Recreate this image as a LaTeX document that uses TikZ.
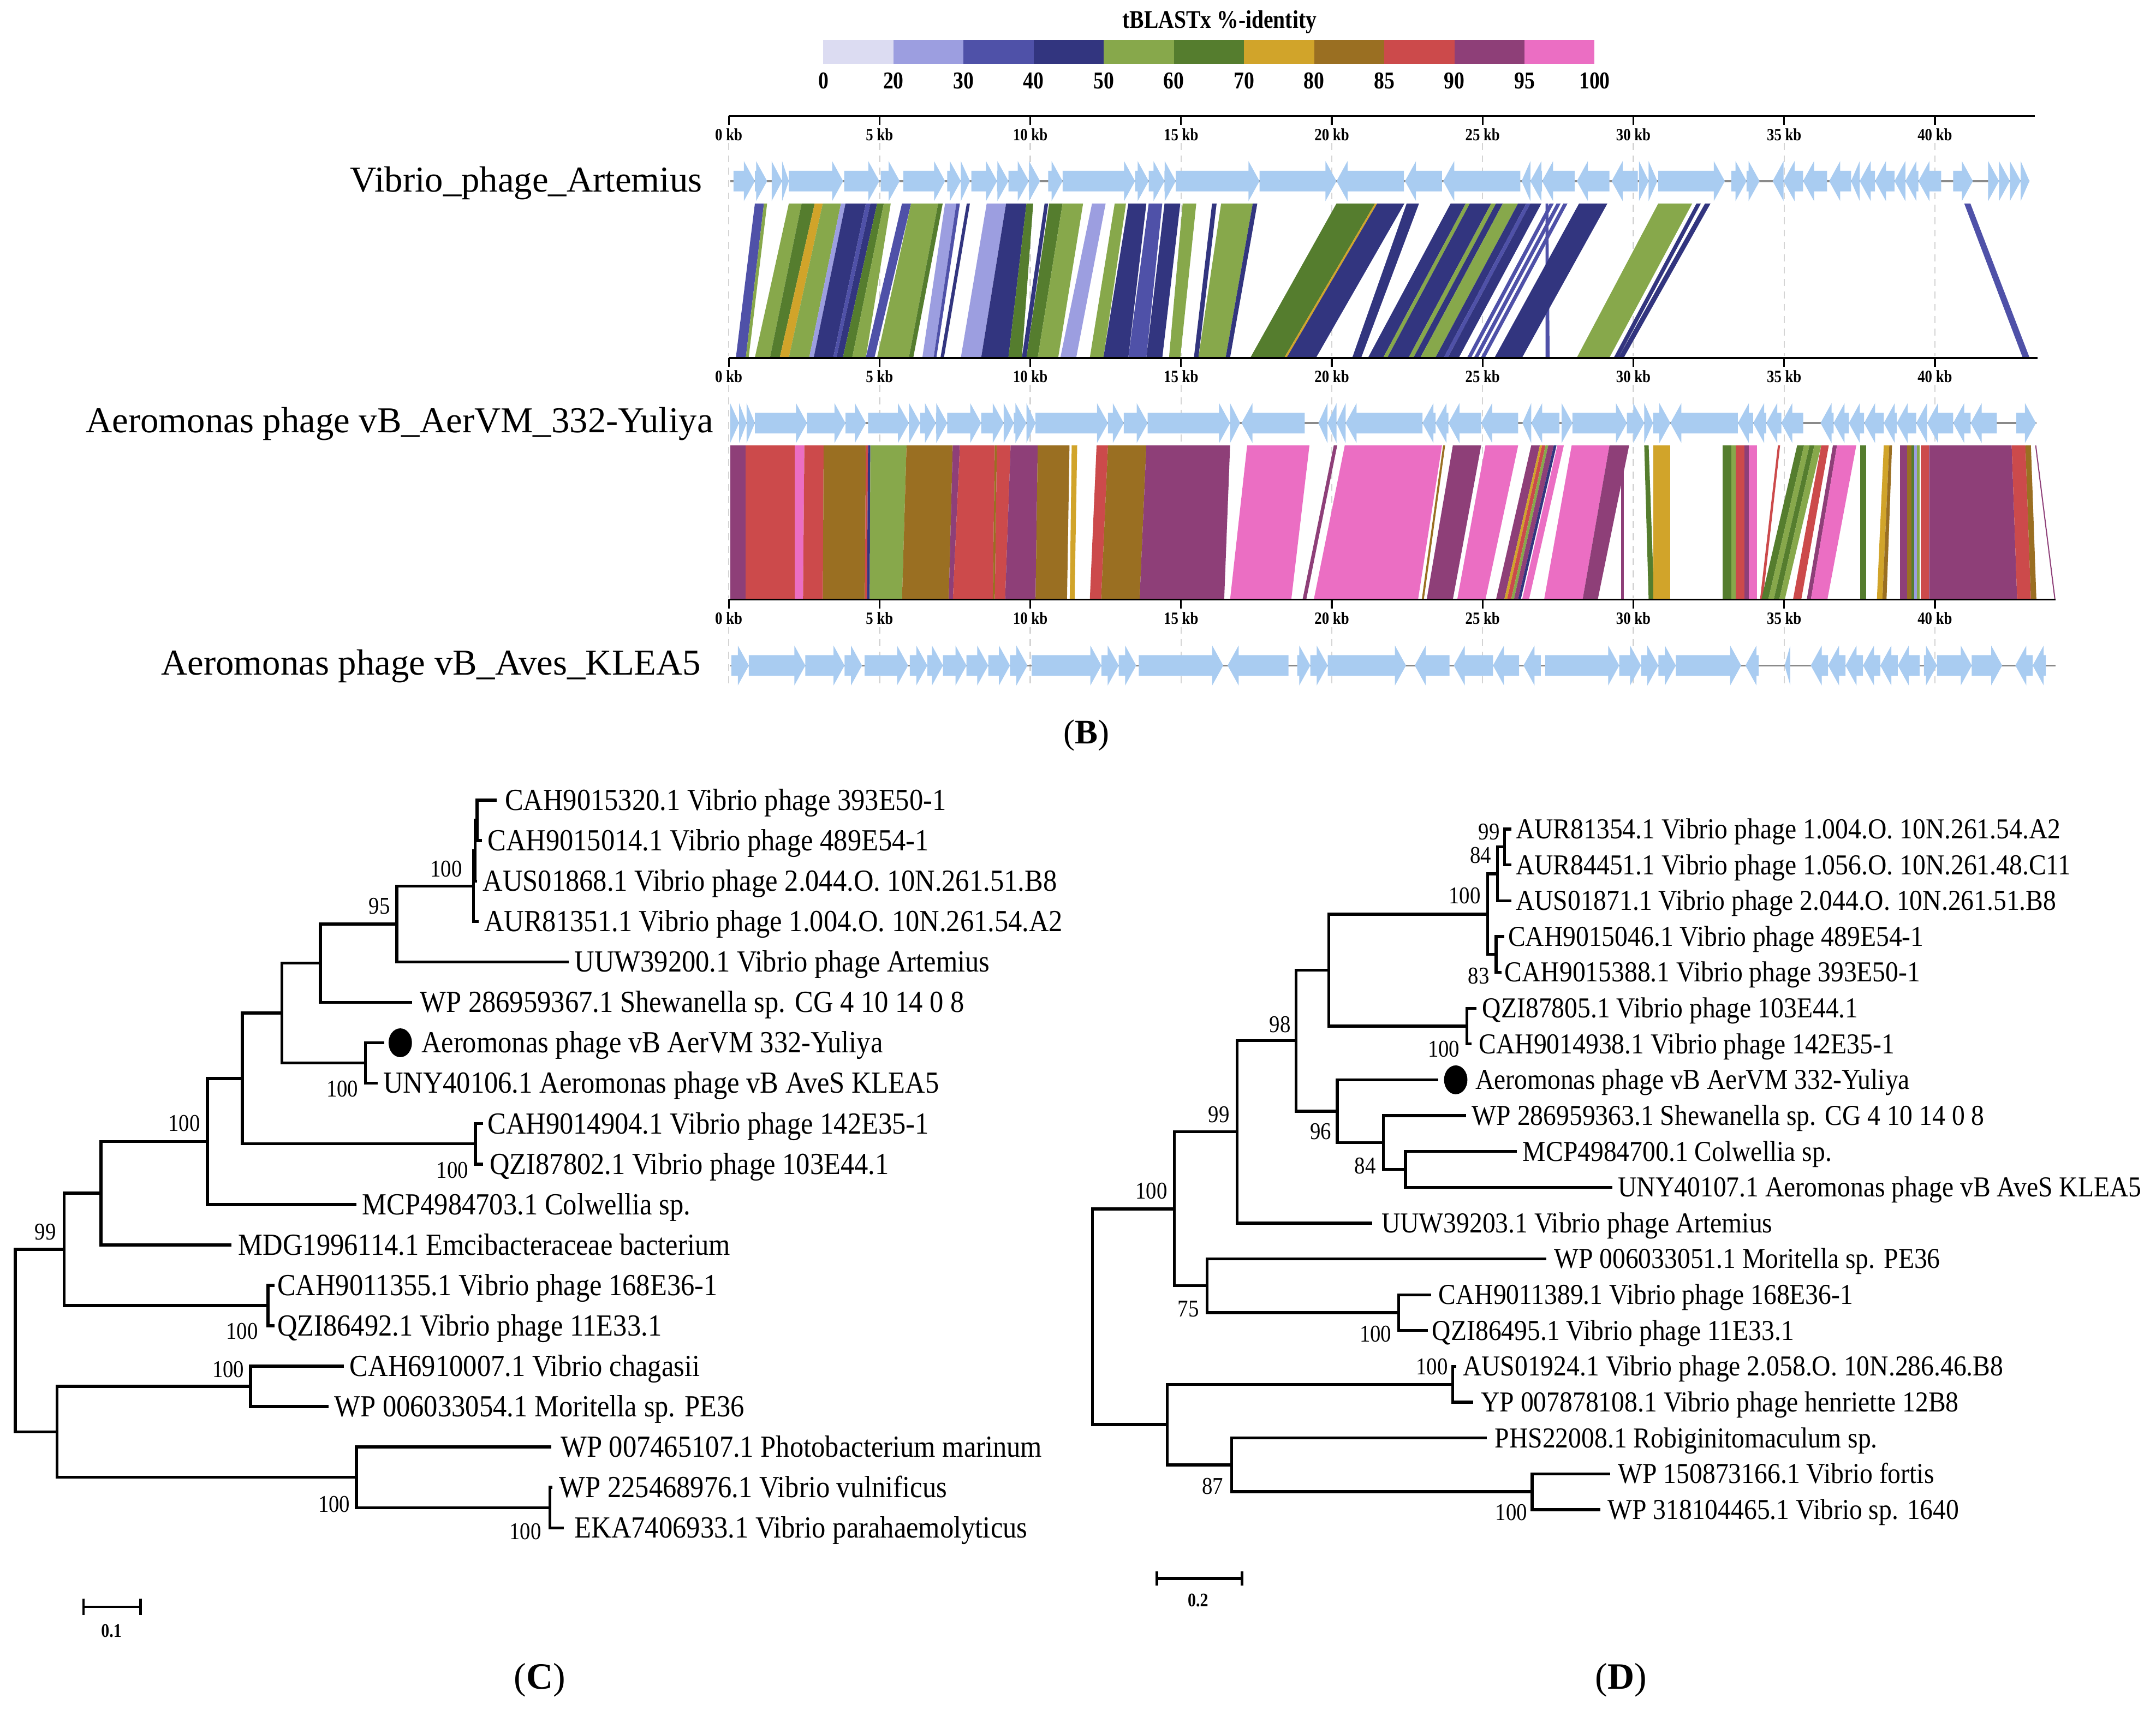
\documentclass[tikz,border=0pt]{standalone}
\usepackage{fontspec}
\setmainfont{Liberation Serif}
\newfontfamily\leaffont[FakeStretch=0.9]{Liberation Serif}
\newfontfamily\bootfont[FakeStretch=0.88]{Liberation Serif}
\newfontfamily\condfont[FakeStretch=0.85]{Liberation Serif}
\definecolor{c1}{HTML}{DCDCF2}
\definecolor{c2}{HTML}{9C9EE0}
\definecolor{c3}{HTML}{4F51A8}
\definecolor{c4}{HTML}{32357F}
\definecolor{c5}{HTML}{87A84B}
\definecolor{c6}{HTML}{557D2E}
\definecolor{c7}{HTML}{D1A42A}
\definecolor{c8}{HTML}{9A6F22}
\definecolor{c9}{HTML}{CC4A4B}
\definecolor{c10}{HTML}{8E3F78}
\definecolor{c11}{HTML}{EB6EC3}
\definecolor{genecol}{HTML}{A9CCF1}
\definecolor{bbone}{HTML}{8A8A8A}
\definecolor{gridc}{HTML}{D4D4D4}
\tikzset{
  br/.style={line width=2.2pt, line cap=rect, line join=miter},
  brd/.style={line width=2.1pt, line cap=rect, line join=miter},
  leaf/.style={anchor=base west, inner sep=0pt, yshift=-7.3pt, font=\leaffont\fontsize{22.3}{24}\selectfont},
  leafd/.style={anchor=base west, inner sep=0pt, yshift=-6.9pt, font=\leaffont\fontsize{21}{23}\selectfont},
  boot/.style={inner sep=0pt, font=\bootfont\fontsize{17.5}{18}\selectfont},
  kb/.style={inner sep=0pt, font=\condfont\bfseries\fontsize{12.5}{13}\selectfont},
  legnum/.style={inner sep=0pt, font=\condfont\bfseries\fontsize{17.6}{18}\selectfont},
  gname/.style={anchor=base east, inner sep=0pt, yshift=-8.7pt, font=\fontsize{26.5}{28}\selectfont},
  ruler/.style={line width=1.3pt, black},
  gridline/.style={gridc, line width=0.9pt, dash pattern=on 5pt off 4pt},
  backbone/.style={bbone, line width=1.4pt},
  panel/.style={inner sep=0pt, font=\fontsize{27}{30}\selectfont},
  sbar/.style={line width=1.8pt},
}
\newcommand\gfwd[3]{%
  \pgfmathsetmacro\hx{max(#1,#2-8)}%
  \fill[genecol] (#1,#3-7.5) -- (\hx,#3-7.5) -- (\hx,#3-14.5) -- (#2,#3) -- (\hx,#3+14.5) -- (\hx,#3+7.5) -- (#1,#3+7.5) -- cycle;}
\newcommand\grev[3]{%
  \pgfmathsetmacro\hx{min(#2,#1+8)}%
  \fill[genecol] (#2,#3-7.5) -- (\hx,#3-7.5) -- (\hx,#3-14.5) -- (#1,#3) -- (\hx,#3+14.5) -- (\hx,#3+7.5) -- (#2,#3+7.5) -- cycle;}
\begin{document}
\begin{tikzpicture}[x=1pt,y=-1pt]
\useasboundingbox (0,0) rectangle (1568,1248);
\fill[white] (0,0) rectangle (1568,1248);

% ---------------- legend ----------------
\node[inner sep=0pt, font=\condfont\bfseries\fontsize{18.5}{19}\selectfont] (legtitle) at (887,16) {tBLASTx \%-identity};
\foreach \i in {1,...,11} \fill[c\i] ({598.8+50.99*(\i-1)},29) rectangle ({598.8+50.99*\i},46.5);
\foreach \v [count=\i from 0] in {0,20,30,40,50,60,70,80,85,90,95,100}
  \node[legnum] (leg\i) at ({598.8+50.99*\i},58.9) {\v};

% ---------------- grid lines ----------------
\foreach \t in {0,5,...,40} {
  \draw[gridline] ({530+21.93*\t},104) -- ({530+21.93*\t},259);
  \draw[gridline] ({530+21.93*\t},280) -- ({530+21.93*\t},435);
  \draw[gridline] ({530+21.93*\t},456) -- ({530+21.93*\t},500);
}

% ---------------- comparison bands 1 ----------------
\foreach \a/\b/\c/\d/\k in {
549/555.6/535.2/542.4/3, 555.6/557.9/542.4/544.5/5, 573.7/583/549/560/5, 583/592.5/560/567.1/6,
592.5/598.4/567.1/573.7/7, 598.4/611.6/573.7/588.5/5, 611.6/614.9/588.5/591.8/2, 614.9/629.7/591.8/606/4,
629.7/633/606/608.3/3, 633/637.9/608.3/613/4, 637.9/642.8/613/619.8/6, 642.8/647.8/619.8/629.7/5,
656/662.6/629.7/636/3, 662.6/682.3/637.9/661/5, 682.3/685.6/661/664.2/6, 687.3/695.5/670.8/679/2,
695.5/698.1/679/681/3, 703.1/705.4/684/686.5/4, 717.6/731.7/698.8/713.6/2, 731.7/746.5/713.6/733.4/4,
746.5/751.4/733.4/743.2/6, 759.7/762.3/743.2/746.5/4, 763/772.8/746.5/754.7/6, 772.8/787.7/754.7/769.6/5,
794.2/804.1/771.2/782.7/2, 810.7/818.9/792.6/802.5/5, 820.6/833.7/802.5/820.6/4, 835.4/845.3/820.6/833.7/3,
846.9/858.4/833.7/845.3/4, 860.1/870/850.2/858.4/5, 881.5/884.8/868.3/871.6/4, 888.1/911.1/871.6/891.4/5,
911.1/914.4/891.4/894.6/4, 972/1000/909.4/934.1/6, 1000/1001.6/934.1/935.8/7, 1001.6/1021.4/935.8/957.2/4,
1023/1032/983.5/990/4, 1055/1066/995/1006/4, 1066/1069/1006/1009/5, 1069/1084.5/1009/1024.5/4,
1084.5/1088/1024.5/1028/5, 1088/1093/1028/1033/4, 1093/1104/1033/1044/5, 1104/1110/1044/1050/4,
1110/1113/1050/1053/3, 1113/1121/1053/1061/4, 1124/1126/1124/1127/3, 1127/1130/1067/1070/3,
1132/1135/1072/1075/3, 1137/1140/1077/1080/3, 1148.4/1169/1087/1107/4, 1206/1230.7/1146.8/1170.5/5,
1233.8/1237/1173.7/1177/4, 1240/1244/1177/1181/4, 1428.5/1433/1471/1476/3}
  \fill[c\k] (\a,148) -- (\b,148) -- (\d,260) -- (\c,260) -- cycle;

% ---------------- comparison bands 2 ----------------
\foreach \a/\b/\c/\d/\k in {
531/542.4/531/542.4/10, 542.4/578/542.4/578/9, 578/585/578/584/11, 585/599/584/598.4/9,
599/629.7/598.4/629/8, 629.7/631.3/629/630.5/9, 631.3/633/630.5/632.5/4, 633/659.3/632.5/656/5,
659.3/692.9/656/690/8, 692.9/698.1/690/693/10, 698.1/723.5/693/722/9, 723.5/725/722/723.5/8,
725/735/723.5/731/9, 735/754.7/731/753.1/10, 754.7/777.8/753.1/776/8, 779.4/783.4/778/781.5/7,
797.5/805.8/792.6/800.8/9, 805.8/833.7/800.8/828.8/8, 833.7/894.6/828.8/890.3/10, 907/952.3/894.6/939.1/11,
970/972.5/947.3/950/10, 978/1048.7/955.5/1031.3/11, 1049.5/1051/1034/1035.5/8, 1056.6/1077.2/1037.6/1056.6/10,
1080.3/1104.1/1059.8/1080.3/11, 1113.6/1119.9/1088/1094/10, 1119.9/1121.5/1094/1096/7, 1121.5/1124/1096/1099/9,
1124/1126/1099/1101/5, 1126/1130/1101/1104/10, 1130/1132/1104/1106/4, 1132.6/1137.3/1107/1112/11,
1143/1170.5/1123/1151/11, 1170.5/1184.8/1151/1162/10, 1179/1181/1179/1181/10, 1195.8/1199/1199/1203/6,
1202.2/1214.8/1202.2/1214.8/7, 1252.8/1259/1252.8/1259/6, 1259/1262.3/1259/1262.3/5, 1262.3/1268.6/1262.3/1268.6/9,
1268.6/1272/1268.6/1272/10, 1272/1278/1272/1278/11, 1293/1294.6/1280/1282/9, 1307/1312/1281/1286/6,
1312/1316/1286/1290/5, 1316/1319.5/1290/1294/6, 1319.5/1324.5/1294/1298/5, 1324.5/1330/1304/1310/9,
1333/1336/1314/1317/10, 1336/1350/1317/1329/11, 1353/1357/1353/1357/6, 1370/1374/1365/1369/7,
1374/1376/1369/1372/8, 1382/1387/1382/1387/10, 1387/1390/1387/1390/8, 1390/1392/1390/1392/6,
1392/1394/1392/1394/2, 1394/1396/1394/1396/5, 1396.8/1403/1396.8/1403/9, 1403/1463/1403/1467/10,
1463/1473/1467/1477/9, 1473/1477/1477/1481/8}
  \fill[c\k] (\a,324) -- (\b,324) -- (\d,436) -- (\c,436) -- cycle;
\draw[c10, line width=0.8pt] (1480.5,324) -- (1494.5,436);

% ---------------- rulers ----------------
\foreach \ry/\rend in {84.4/1480, 260.4/1482, 436/1495} {
  \draw[ruler] (530,\ry) -- (\rend,\ry);
  \foreach \t in {0,5,...,40} {
    \draw[ruler] ({530+21.93*\t},\ry) -- ++(0,6.5);
    \node[kb] at ({530+21.93*\t},\ry+13.5) {\t{} kb};
  }
}

% ---------------- gene tracks ----------------
\draw[backbone] (531,131.7) -- (1476,131.7);
\foreach \a/\b in {533.5/549, 549/557.9, 561.2/568.8, 568.8/573.7, 573.7/613.2, 613.9/639.5, 640.5/654.3, 657/687.3, 688.9/698.8, 698.8/705.4, 706.4/725.1, 725.1/733.4, 733.4/748.2, 748.2/756.4, 762.3/772.8, 772.8/825.5, 825.5/835.4, 835.4/846.9, 846.9/855.1, 855.1/916, 916/972, 1192/1199, 1199/1205.3, 1206/1254.4, 1259.1/1270.2, 1270.2/1279.7, 1420.5/1434.8, 1445.9/1453.8, 1453.8/1461.7, 1461.7/1469.6, 1469.6/1475.9}
  \gfwd{\a}{\b}{131.7};
\foreach \a/\b in {972/1021, 1021.8/1048.7, 1049.6/1105.7, 1106.6/1113, 1113/1121.5, 1121.5/1145.2, 1146.8/1170.5, 1172.1/1191.1, 1289.2/1297.1, 1297.1/1311.3, 1311.3/1328.8, 1330.3/1346.2, 1346.2/1352.5, 1352.5/1363.6, 1363.6/1377.8, 1377.8/1385.7, 1385.7/1395.2, 1395.2/1411.7}
  \grev{\a}{\b}{131.7};

\draw[backbone] (531,307.7) -- (1481,307.7);
\foreach \a/\b in {531/537.5, 537.5/543, 543/549, 549/586.9, 586.9/614.9, 614.9/629.7, 631.3/661, 661/669.2, 669.2/680.7, 680.7/688.9, 688.9/713.6, 713.6/730, 730/737.3, 737.3/746.5, 746.5/753.1, 753.1/805.8, 805.8/817.3, 817.3/834.7, 834.7/894.6, 894.6/901.9, 1135.7/1143.6, 1143.6/1183.2, 1183.2/1195.8, 1195.8/1202.2, 1202.2/1214.8, 1466.4/1480.7}
  \gfwd{\a}{\b}{307.7};
\foreach \a/\b in {902.9/948.9, 958.8/965.4, 965.4/972, 972/978.6, 978.6/1034.5, 1034.5/1044, 1044/1053.4, 1053.4/1077.2, 1077.2/1104.1, 1107.2/1113.6, 1113.6/1134.1, 1214.8/1263.9, 1263.9/1275, 1275/1284.5, 1284.5/1295.5, 1295.5/1311.4, 1324/1333.5, 1333.5/1344.6, 1344.6/1355.7, 1355.7/1370, 1370/1379.4, 1379.4/1393.6, 1393.6/1401.5, 1401.5/1420.5, 1420.5/1433.2, 1433.2/1452.2}
  \grev{\a}{\b}{307.7};

\draw[backbone] (531,484) -- (1495,484);
\foreach \a/\b in {531.9/544.6, 544.6/585.7, 585.7/614.2, 614.2/626.9, 628.8/660.4, 661.7/674.4, 674.4/685.8, 685.8/702.9, 702.9/718.7, 718.7/734.5, 734.5/747.2, 750.3/801, 801/813.6, 813.6/826.3, 828.2/889.6, 943.4/952.9, 952.9/965.6, 965.6/1022.5, 1123.8/1177.6, 1177.6/1193.5, 1193.5/1206.1, 1206.1/1218.8, 1218.8/1266.3, 1399.2/1408.7, 1408.7/1434, 1434/1456.1}
  \gfwd{\a}{\b}{484};
\foreach \a/\b in {892.8/937.1, 1028.9/1054.2, 1057.3/1085.8, 1085.8/1104.8, 1108/1120.6, 1269.4/1279, 1297.9/1302, 1316.9/1329.5, 1329.5/1342.2, 1342.2/1354.9, 1354.9/1367.5, 1367.5/1380.2, 1380.2/1396, 1465.7/1478.3, 1478.3/1487.8}
  \grev{\a}{\b}{484};

% ---------------- genome names ----------------
\node[gname] (g1) at (511,131) {Vibrio\_phage\_Artemius};
\node[gname] (g2) at (519,306) {Aeromonas phage vB\_AerVM\_332-Yuliya};
\node[gname] (g3) at (510,482) {Aeromonas phage vB\_Aves\_KLEA5};
\node[panel, font=\fontsize{25}{28}\selectfont] (pB) at (790,535) {(\textbf{B})};

% ---------------- tree C ----------------
\draw[br] (360,582) -- (347,582) -- (347,611.4) -- (349.4,611.4);
\draw[br] (347,596.7) -- (345.5,596.7) -- (345.5,640.8) -- (346,640.8);
\draw[br] (345.5,618.75) -- (344.3,618.75) -- (344.3,670.2) -- (347,670.2);
\draw[br] (344.3,644.5) -- (288.6,644.5) -- (288.6,699.6) -- (412.7,699.6);
\draw[br] (288.6,672.05) -- (233,672.05) -- (233,729) -- (298.7,729);
\draw[br] (278.5,758.4) -- (265.8,758.4) -- (265.8,787.8) -- (273.4,787.8);
\draw[br] (233,700.5) -- (205,700.5) -- (205,773.1) -- (265.8,773.1);
\draw[br] (350.4,817.2) -- (345.8,817.2) -- (345.8,846.6) -- (350.4,846.6);
\draw[br] (205,736.8) -- (176.2,736.8) -- (176.2,831.9) -- (345.8,831.9);
\draw[br] (176.2,784.35) -- (150.9,784.35) -- (150.9,876) -- (258.2,876);
\draw[br] (150.9,830.2) -- (73.4,830.2) -- (73.4,905.4) -- (167.1,905.4);
\draw[br] (198.5,934.8) -- (194.9,934.8) -- (194.9,964.2) -- (198.5,964.2);
\draw[br] (73.4,867.8) -- (46.6,867.8) -- (46.6,949.5) -- (194.9,949.5);
\draw[br] (249.1,993.6) -- (182.3,993.6) -- (182.3,1023) -- (238,1023);
\draw[br] (400.5,1081.8) -- (400,1081.8) -- (400,1111.2) -- (409.1,1111.2);
\draw[br] (400,1052.4) -- (259.2,1052.4) -- (259.2,1096.5) -- (400,1096.5);
\draw[br] (182.3,1008.3) -- (41.5,1008.3) -- (41.5,1074.45) -- (259.2,1074.45);
\draw[br] (46.6,908.65) -- (11.1,908.65) -- (11.1,1041.4) -- (41.5,1041.4);
\fill (291.1,758.4) ellipse [x radius=8.5, y radius=10.5];

\node[leaf] (c1) at (367,582) {CAH9015320.1 Vibrio phage 393E50-1};
\node[leaf] (c2) at (354.4,611.4) {CAH9015014.1 Vibrio phage 489E54-1};
\node[leaf] (c3) at (351,640.8) {AUS01868.1 Vibrio phage 2.044.O. 10N.261.51.B8};
\node[leaf] (c4) at (352,670.2) {AUR81351.1 Vibrio phage 1.004.O. 10N.261.54.A2};
\node[leaf] (c5) at (417.7,699.6) {UUW39200.1 Vibrio phage Artemius};
\node[leaf] (c6) at (305.3,729) {WP 286959367.1 Shewanella sp. CG 4 10 14 0 8};
\node[leaf] (c7) at (306.3,758.4) {Aeromonas phage vB AerVM 332-Yuliya};
\node[leaf] (c8) at (278.5,787.8) {UNY40106.1 Aeromonas phage vB AveS KLEA5};
\node[leaf] (c9) at (354.4,817.2) {CAH9014904.1 Vibrio phage 142E35-1};
\node[leaf] (c10) at (356,846.6) {QZI87802.1 Vibrio phage 103E44.1};
\node[leaf] (c11) at (263.3,876) {MCP4984703.1 Colwellia sp.};
\node[leaf] (c12) at (173.2,905.4) {MDG1996114.1 Emcibacteraceae bacterium};
\node[leaf] (c13) at (201.5,934.8) {CAH9011355.1 Vibrio phage 168E36-1};
\node[leaf] (c14) at (201.5,964.2) {QZI86492.1 Vibrio phage 11E33.1};
\node[leaf] (c15) at (254.2,993.6) {CAH6910007.1 Vibrio chagasii};
\node[leaf] (c16) at (243,1023) {WP 006033054.1 Moritella sp. PE36};
\node[leaf] (c17) at (407.6,1052.4) {WP 007465107.1 Photobacterium marinum};
\node[leaf] (c18) at (406.6,1081.8) {WP 225468976.1 Vibrio vulnificus};
\node[leaf] (c19) at (417.7,1111.2) {EKA7406933.1 Vibrio parahaemolyticus};

\foreach \x/\y/\v [count=\n] in {324.5/632/100, 276/659/95, 249/792/100, 134/817/100, 329/851/100, 33/896/99, 176/968/100, 166/996/100, 243/1094/100, 382/1114/100}
  \node[boot] (cb\n) at (\x,\y) {\v};

\draw[sbar] (60.8,1168.6) -- (102.3,1168.6);
\draw[sbar] (60.8,1162.5) -- (60.8,1174.4);
\draw[sbar] (102.3,1162.5) -- (102.3,1174.4);
\node[inner sep=0pt, font=\condfont\bfseries\fontsize{14}{15}\selectfont] (sc) at (81,1186) {0.1};
\node[panel] (pC) at (392.5,1222) {(\textbf{C})};

% ---------------- tree D ----------------
\draw[brd] (1098,603) -- (1094.1,603) -- (1094.1,629.05) -- (1098,629.05);
\draw[brd] (1094.1,616) -- (1089,616) -- (1089,655.1) -- (1098.1,655.1);
\draw[brd] (1093,681.15) -- (1088,681.15) -- (1088,707.2) -- (1091,707.2);
\draw[brd] (1089,635.55) -- (1081.9,635.55) -- (1081.9,694.2) -- (1088,694.2);
\draw[brd] (1072.8,733.25) -- (1066.8,733.25) -- (1066.8,759.3) -- (1069,759.3);
\draw[brd] (1081.9,664.9) -- (966.5,664.9) -- (966.5,746.3) -- (1066.8,746.3);
\draw[brd] (1102.2,837.45) -- (1022.2,837.45) -- (1022.2,863.5) -- (1171.6,863.5);
\draw[brd] (1065.2,811.4) -- (1006,811.4) -- (1006,850.5) -- (1022.2,850.5);
\draw[brd] (1045,785.35) -- (972.6,785.35) -- (972.6,830.95) -- (1006,830.95);
\draw[brd] (966.5,705.6) -- (942.7,705.6) -- (942.7,808.15) -- (972.6,808.15);
\draw[brd] (942.7,756.9) -- (899.7,756.9) -- (899.7,889.55) -- (996.9,889.55);
\draw[brd] (1039.9,941.65) -- (1017.1,941.65) -- (1017.1,967.7) -- (1037.4,967.7);
\draw[brd] (1123.5,915.6) -- (877.9,915.6) -- (877.9,954.7) -- (1017.1,954.7);
\draw[brd] (899.7,823.2) -- (854.1,823.2) -- (854.1,935.15) -- (877.9,935.15);
\draw[brd] (1058,993.75) -- (1056.6,993.75) -- (1056.6,1019.8) -- (1070.3,1019.8);
\draw[brd] (1170,1071.9) -- (1114.3,1071.9) -- (1114.3,1097.95) -- (1163,1097.95);
\draw[brd] (1080.4,1045.85) -- (895.6,1045.85) -- (895.6,1084.9) -- (1114.3,1084.9);
\draw[brd] (1056.6,1006.8) -- (849,1006.8) -- (849,1065.4) -- (895.6,1065.4);
\draw[brd] (854.1,879.2) -- (794.4,879.2) -- (794.4,1036.1) -- (849,1036.1);
\fill (1058.7,785.35) ellipse [x radius=8.5, y radius=10.5];

\node[leafd] (d1) at (1102.2,603) {AUR81354.1 Vibrio phage 1.004.O. 10N.261.54.A2};
\node[leafd] (d2) at (1102.2,629.05) {AUR84451.1 Vibrio phage 1.056.O. 10N.261.48.C11};
\node[leafd] (d3) at (1102.2,655.1) {AUS01871.1 Vibrio phage 2.044.O. 10N.261.51.B8};
\node[leafd] (d4) at (1096.6,681.15) {CAH9015046.1 Vibrio phage 489E54-1};
\node[leafd] (d5) at (1094.1,707.2) {CAH9015388.1 Vibrio phage 393E50-1};
\node[leafd] (d6) at (1077.9,733.25) {QZI87805.1 Vibrio phage 103E44.1};
\node[leafd] (d7) at (1075.4,759.3) {CAH9014938.1 Vibrio phage 142E35-1};
\node[leafd] (d8) at (1072.8,785.35) {Aeromonas phage vB AerVM 332-Yuliya};
\node[leafd] (d9) at (1070.3,811.4) {WP 286959363.1 Shewanella sp. CG 4 10 14 0 8};
\node[leafd] (d10) at (1107.3,837.45) {MCP4984700.1 Colwellia sp.};
\node[leafd] (d11) at (1176.6,863.5) {UNY40107.1 Aeromonas phage vB AveS KLEA5};
\node[leafd] (d12) at (1004.5,889.55) {UUW39203.1 Vibrio phage Artemius};
\node[leafd] (d13) at (1130,915.6) {WP 006033051.1 Moritella sp. PE36};
\node[leafd] (d14) at (1046,941.65) {CAH9011389.1 Vibrio phage 168E36-1};
\node[leafd] (d15) at (1041.4,967.7) {QZI86495.1 Vibrio phage 11E33.1};
\node[leafd] (d16) at (1063.7,993.75) {AUS01924.1 Vibrio phage 2.058.O. 10N.286.46.B8};
\node[leafd] (d17) at (1076.9,1019.8) {YP 007878108.1 Vibrio phage henriette 12B8};
\node[leafd] (d18) at (1087,1045.85) {PHS22008.1 Robiginitomaculum sp.};
\node[leafd] (d19) at (1176.6,1071.9) {WP 150873166.1 Vibrio fortis};
\node[leafd] (d20) at (1169,1097.95) {WP 318104465.1 Vibrio sp. 1640};

\foreach \x/\y/\v [count=\n] in {1083/605/99, 1076.9/622/84, 1065.2/651.3/100, 1075.4/709.8/83, 1050/763/100, 931/745.2/98, 960.4/823/96, 992.8/847.9/84, 886.5/810.8/99, 837.4/866.3/100, 864.2/951.9/75, 1000.4/970.3/100, 1041.4/994/100, 882/1081/87, 1099.2/1100/100}
  \node[boot] (db\n) at (\x,\y) {\v};

\draw[sbar, line width=2.3pt] (841.4,1148) -- (903.2,1148);
\draw[sbar] (841.4,1142.8) -- (841.4,1153.3);
\draw[sbar] (903.2,1142.8) -- (903.2,1153.3);
\node[inner sep=0pt, font=\condfont\bfseries\fontsize{14}{15}\selectfont] (sd) at (871.3,1164) {0.2};
\node[panel] (pD) at (1179,1222) {(\textbf{D})};
\end{tikzpicture}
\end{document}
